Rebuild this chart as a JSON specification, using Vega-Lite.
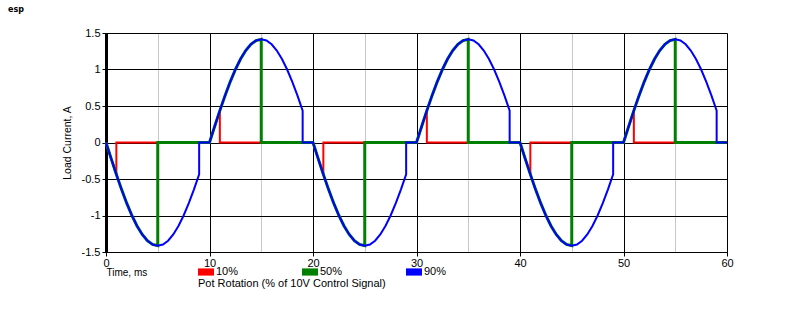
{
  "$schema": "https://vega.github.io/schema/vega-lite/v6.json",
  "autosize": {"type": "none"},
  "padding": {"left": 106, "top": 33, "right": 73, "bottom": 58},
  "width": 621,
  "height": 219,
  "background": "white",
  "title": {"text": "esp", "anchor": "start", "frame": "group", "dx": -98, "offset": 13, "fontSize": 8, "fontWeight": "bold", "font": "DejaVu Sans", "color": "#000"},
  "datasets": {
    "red": [
      {"t":0,"v":0},{"t":0.5,"v":-0.221},{"t":1,"v":-0.437},{"t":1,"v":0},{"t":10,"v":0},
      {"t":10.5,"v":0.221},{"t":11,"v":0.437},{"t":11,"v":0},{"t":20,"v":0},
      {"t":20.5,"v":-0.221},{"t":21,"v":-0.437},{"t":21,"v":0},{"t":30,"v":0},
      {"t":30.5,"v":0.221},{"t":31,"v":0.437},{"t":31,"v":0},{"t":40,"v":0},
      {"t":40.5,"v":-0.221},{"t":41,"v":-0.437},{"t":41,"v":0},{"t":50,"v":0},
      {"t":50.5,"v":0.221},{"t":51,"v":0.437},{"t":51,"v":0},{"t":60,"v":0}
    ],
    "green": [
      {"t":0,"v":0},{"t":0.5,"v":-0.221},{"t":1,"v":-0.437},{"t":1.5,"v":-0.642},{"t":2,"v":-0.831},{"t":2.5,"v":-1},{"t":3,"v":-1.144},{"t":3.5,"v":-1.26},{"t":4,"v":-1.345},{"t":4.5,"v":-1.397},{"t":5,"v":-1.414},{"t":5,"v":0},{"t":10,"v":0},
      {"t":10.5,"v":0.221},{"t":11,"v":0.437},{"t":11.5,"v":0.642},{"t":12,"v":0.831},{"t":12.5,"v":1},{"t":13,"v":1.144},{"t":13.5,"v":1.26},{"t":14,"v":1.345},{"t":14.5,"v":1.397},{"t":15,"v":1.414},{"t":15,"v":0},{"t":20,"v":0},
      {"t":20.5,"v":-0.221},{"t":21,"v":-0.437},{"t":21.5,"v":-0.642},{"t":22,"v":-0.831},{"t":22.5,"v":-1},{"t":23,"v":-1.144},{"t":23.5,"v":-1.26},{"t":24,"v":-1.345},{"t":24.5,"v":-1.397},{"t":25,"v":-1.414},{"t":25,"v":0},{"t":30,"v":0},
      {"t":30.5,"v":0.221},{"t":31,"v":0.437},{"t":31.5,"v":0.642},{"t":32,"v":0.831},{"t":32.5,"v":1},{"t":33,"v":1.144},{"t":33.5,"v":1.26},{"t":34,"v":1.345},{"t":34.5,"v":1.397},{"t":35,"v":1.414},{"t":35,"v":0},{"t":40,"v":0},
      {"t":40.5,"v":-0.221},{"t":41,"v":-0.437},{"t":41.5,"v":-0.642},{"t":42,"v":-0.831},{"t":42.5,"v":-1},{"t":43,"v":-1.144},{"t":43.5,"v":-1.26},{"t":44,"v":-1.345},{"t":44.5,"v":-1.397},{"t":45,"v":-1.414},{"t":45,"v":0},{"t":50,"v":0},
      {"t":50.5,"v":0.221},{"t":51,"v":0.437},{"t":51.5,"v":0.642},{"t":52,"v":0.831},{"t":52.5,"v":1},{"t":53,"v":1.144},{"t":53.5,"v":1.26},{"t":54,"v":1.345},{"t":54.5,"v":1.397},{"t":55,"v":1.414},{"t":55,"v":0},{"t":60,"v":0}
    ],
    "blue": [
      {"t":0,"v":0},{"t":0.5,"v":-0.221},{"t":1,"v":-0.437},{"t":1.5,"v":-0.642},{"t":2,"v":-0.831},{"t":2.5,"v":-1},{"t":3,"v":-1.144},{"t":3.5,"v":-1.26},{"t":4,"v":-1.345},{"t":4.5,"v":-1.397},{"t":5,"v":-1.414},{"t":5.5,"v":-1.397},{"t":6,"v":-1.345},{"t":6.5,"v":-1.26},{"t":7,"v":-1.144},{"t":7.5,"v":-1},{"t":8,"v":-0.831},{"t":8.5,"v":-0.642},{"t":9,"v":-0.437},{"t":9,"v":0},{"t":10,"v":0},
      {"t":10.5,"v":0.221},{"t":11,"v":0.437},{"t":11.5,"v":0.642},{"t":12,"v":0.831},{"t":12.5,"v":1},{"t":13,"v":1.144},{"t":13.5,"v":1.26},{"t":14,"v":1.345},{"t":14.5,"v":1.397},{"t":15,"v":1.414},{"t":15.5,"v":1.397},{"t":16,"v":1.345},{"t":16.5,"v":1.26},{"t":17,"v":1.144},{"t":17.5,"v":1},{"t":18,"v":0.831},{"t":18.5,"v":0.642},{"t":19,"v":0.437},{"t":19,"v":0},{"t":20,"v":0},
      {"t":20.5,"v":-0.221},{"t":21,"v":-0.437},{"t":21.5,"v":-0.642},{"t":22,"v":-0.831},{"t":22.5,"v":-1},{"t":23,"v":-1.144},{"t":23.5,"v":-1.26},{"t":24,"v":-1.345},{"t":24.5,"v":-1.397},{"t":25,"v":-1.414},{"t":25.5,"v":-1.397},{"t":26,"v":-1.345},{"t":26.5,"v":-1.26},{"t":27,"v":-1.144},{"t":27.5,"v":-1},{"t":28,"v":-0.831},{"t":28.5,"v":-0.642},{"t":29,"v":-0.437},{"t":29,"v":0},{"t":30,"v":0},
      {"t":30.5,"v":0.221},{"t":31,"v":0.437},{"t":31.5,"v":0.642},{"t":32,"v":0.831},{"t":32.5,"v":1},{"t":33,"v":1.144},{"t":33.5,"v":1.26},{"t":34,"v":1.345},{"t":34.5,"v":1.397},{"t":35,"v":1.414},{"t":35.5,"v":1.397},{"t":36,"v":1.345},{"t":36.5,"v":1.26},{"t":37,"v":1.144},{"t":37.5,"v":1},{"t":38,"v":0.831},{"t":38.5,"v":0.642},{"t":39,"v":0.437},{"t":39,"v":0},{"t":40,"v":0},
      {"t":40.5,"v":-0.221},{"t":41,"v":-0.437},{"t":41.5,"v":-0.642},{"t":42,"v":-0.831},{"t":42.5,"v":-1},{"t":43,"v":-1.144},{"t":43.5,"v":-1.26},{"t":44,"v":-1.345},{"t":44.5,"v":-1.397},{"t":45,"v":-1.414},{"t":45.5,"v":-1.397},{"t":46,"v":-1.345},{"t":46.5,"v":-1.26},{"t":47,"v":-1.144},{"t":47.5,"v":-1},{"t":48,"v":-0.831},{"t":48.5,"v":-0.642},{"t":49,"v":-0.437},{"t":49,"v":0},{"t":50,"v":0},
      {"t":50.5,"v":0.221},{"t":51,"v":0.437},{"t":51.5,"v":0.642},{"t":52,"v":0.831},{"t":52.5,"v":1},{"t":53,"v":1.144},{"t":53.5,"v":1.26},{"t":54,"v":1.345},{"t":54.5,"v":1.397},{"t":55,"v":1.414},{"t":55.5,"v":1.397},{"t":56,"v":1.345},{"t":56.5,"v":1.26},{"t":57,"v":1.144},{"t":57.5,"v":1},{"t":58,"v":0.831},{"t":58.5,"v":0.642},{"t":59,"v":0.437},{"t":59,"v":0},{"t":60,"v":0}
    ]
  },
  "encoding": {
    "x": {
      "field": "t", "type": "quantitative",
      "scale": {"domain": [0, 60], "nice": false, "zero": false},
      "axis": {
        "values": [0,5,10,15,20,25,30,35,40,45,50,55,60],
        "labelExpr": "datum.value % 10 == 0 ? datum.label : ''",
        "gridColor": {"condition": {"test": "datum.value % 10 != 0", "value": "#c8c8c8"}, "value": "#000000"},
        "tickOpacity": {"condition": {"test": "datum.value % 10 != 0", "value": 0}, "value": 1},
        "grid": true,
        "domainColor": "#000000",
        "tickColor": "#000000",
        "tickSize": 4,
        "labelPadding": 1,
        "labelFlush": false,
        "title": "Time, ms",
        "titleFontSize": 10,
        "titleX": 0,
        "titleY": 23,
        "titleAlign": "left",
        "titleBaseline": "alphabetic"
      }
    },
    "y": {
      "field": "v", "type": "quantitative",
      "scale": {"domain": [-1.5, 1.5], "nice": false, "zero": false},
      "axis": {
        "values": [-1.5,-1,-0.5,0,0.5,1,1.5],
        "labelExpr": "datum.value + ''",
        "grid": true,
        "gridColor": "#000000",
        "domainColor": "#000000",
        "domainWidth": 3,
        "tickColor": "#000000",
        "tickSize": 4,
        "labelPadding": 2,
        "title": "Load Current, A",
        "titleFontSize": 10.5,
        "titleX": -39,
        "titleY": 109.5,
        "titleAngle": 270,
        "titleAlign": "center",
        "titleBaseline": "middle"
      }
    }
  },
  "layer": [
    {
      "data": {"name": "red"},
      "mark": {"type": "line", "strokeWidth": 2},
      "encoding": {
        "color": {
          "datum": "10%", "type": "nominal",
          "scale": {"domain": ["10%", "50%", "90%"], "range": ["#ff0000", "#008000", "#0000ff"]},
          "legend": {
            "title": "Pot Rotation (% of 10V Control Signal)",
            "orient": "none",
            "legendX": 92,
            "legendY": 231,
            "direction": "horizontal",
            "columns": 3,
            "columnPadding": 63,
            "symbolType": "M-1,-0.45L1,-0.45L1,0.45L-1,0.45Z",
            "symbolSize": 256,
            "symbolStrokeWidth": 0,
            "labelOffset": 2,
            "titleOrient": "bottom",
            "titleAnchor": "start",
            "titlePadding": 1,
            "titleLimit": 500,
            "padding": 0,
            "encode": {"symbols": {"update": {"fill": {"scale": "color", "field": "value"}, "stroke": {"value": "transparent"}, "opacity": {"value": 1}}}}
          }
        },
        "order": {"value": null}
      }
    },
    {
      "data": {"name": "green"},
      "mark": {"type": "line", "strokeWidth": 3},
      "encoding": {"color": {"datum": "50%", "type": "nominal"}, "order": {"value": null}}
    },
    {
      "data": {"name": "blue"},
      "mark": {"type": "line", "strokeWidth": 2},
      "encoding": {"color": {"datum": "90%", "type": "nominal"}, "order": {"value": null}}
    }
  ],
  "config": {
    "font": "Liberation Sans",
    "view": {"stroke": null},
    "axis": {"labelFontSize": 11, "titleFontSize": 10, "titleFontWeight": "normal", "labelColor": "#000000", "titleColor": "#000000", "gridWidth": 1, "domainWidth": 1},
    "legend": {"labelFontSize": 11, "titleFontSize": 11, "titleFontWeight": "normal", "labelColor": "#000000", "titleColor": "#000000"}
  }
}
